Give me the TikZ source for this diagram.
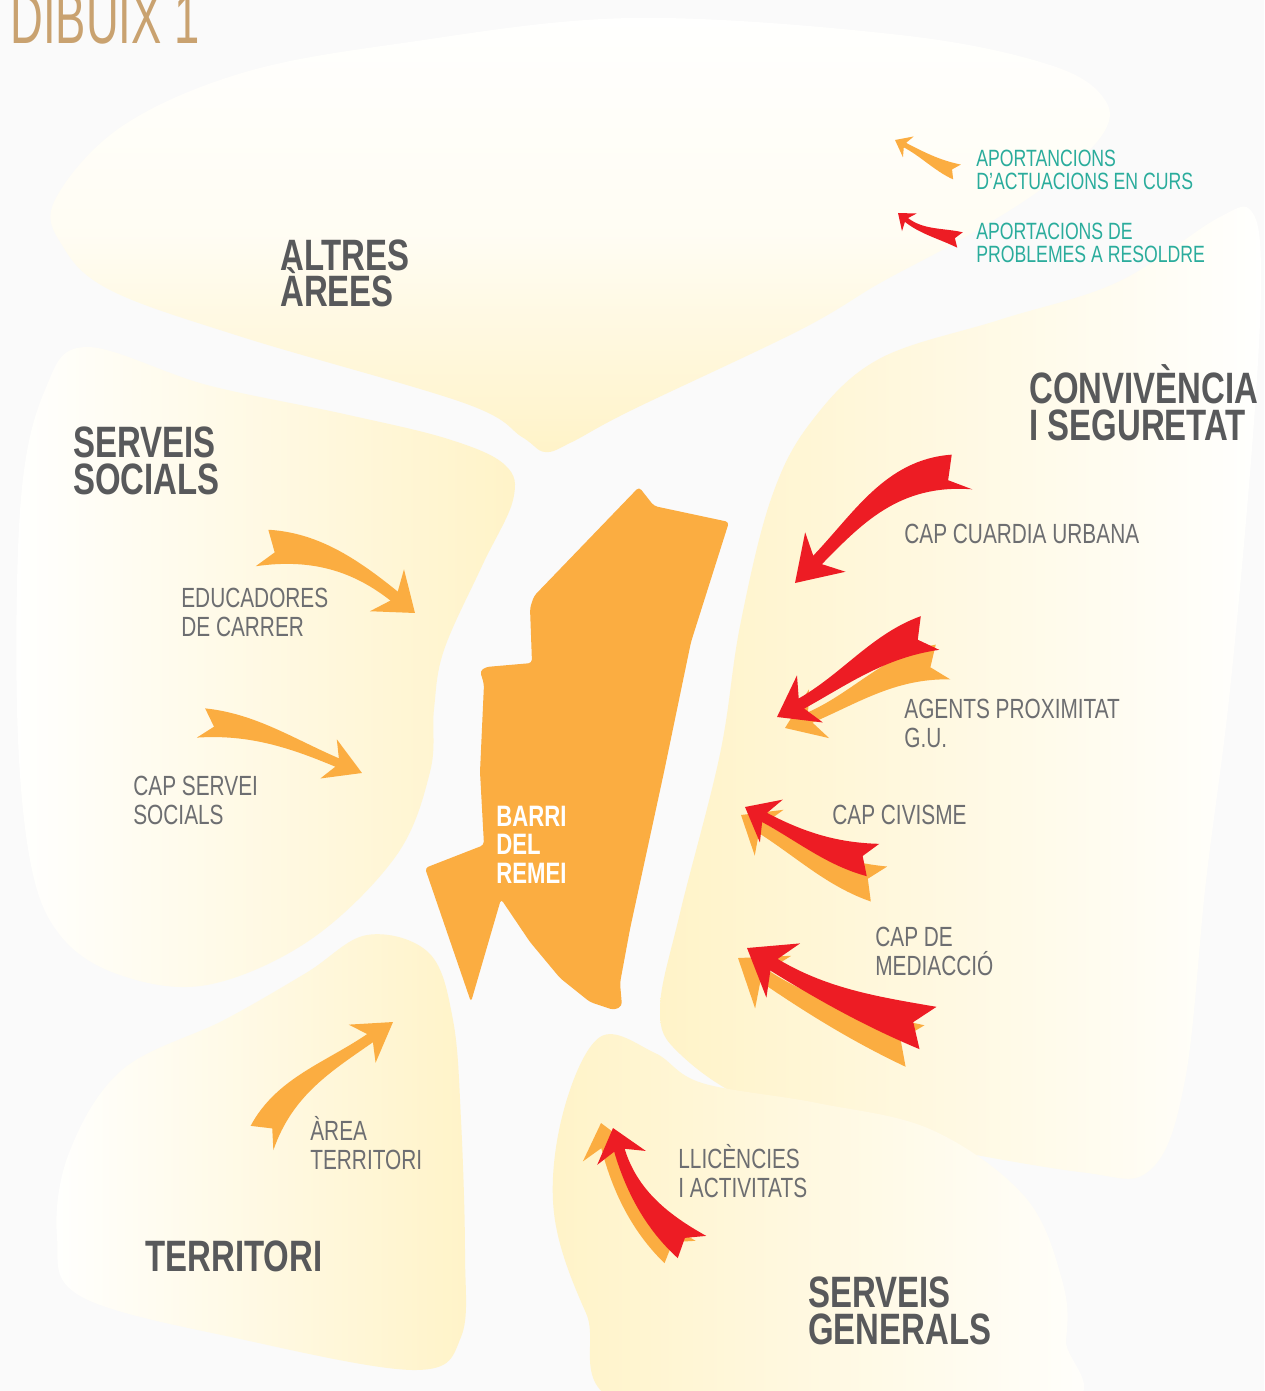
\documentclass[tikz,border=0pt]{standalone}
\usepackage{fontspec}
\setmainfont{Liberation Sans}[FakeStretch=0.75]
\newfontfamily\dibuixfont{Liberation Sans}[FakeStretch=0.63]
\definecolor{bggray}{RGB}{250,250,250}
\definecolor{blobyellow}{RGB}{255,243,200}
\definecolor{blobwhite}{RGB}{255,255,254}
\definecolor{barriorange}{RGB}{251,173,65}
\definecolor{probred}{RGB}{237,28,36}
\definecolor{legendteal}{RGB}{42,172,156}
\definecolor{titlegray}{RGB}{88,89,91}
\definecolor{labelgray}{RGB}{109,110,113}
\definecolor{dibuixtan}{RGB}{201,162,112}
\lineskiplimit=-40pt
% swoosh arrow: colour, tail x, tail y, tip x, tip y, bend, width, head twist
\newcommand{\swoosh}[8]{%
  \pgfmathsetmacro\swdx{#4-#2}%
  \pgfmathsetmacro\swdy{#3-#5}%
  \pgfmathsetmacro\swc{cos(#8)}%
  \pgfmathsetmacro\sws{sin(#8)}%
  \pgfmathsetmacro\swlen{veclen(\swdx,\swdy)/veclen(0.8+0.2*\swc,0.2*\sws)}%
  \pgfmathsetmacro\swang{atan2(\swdy,\swdx)-atan2(0.2*\sws,0.8+0.2*\swc)}%
  \fill[#1, shift={(#2,#3)}, rotate=\swang, scale=\swlen]
    (0,{0.1*#7}) -- (0.08,0) -- (0,{-0.1*#7})
    .. controls (0.3,{#6-0.07*#7}) and ({0.8-0.24*\swc-0.03*#7*\sws},{0.24*\sws-0.03*#7*\swc})
    .. ({0.8+0.06*\swc-0.03*#7*\sws},{-0.06*\sws-0.03*#7*\swc})
    -- ({0.8+0.06*\swc+0.03*#7*\sws},{-0.06*\sws+0.03*#7*\swc})
    .. controls ({0.8-0.24*\swc+0.03*#7*\sws},{0.24*\sws+0.03*#7*\swc}) and (0.3,{#6+0.07*#7})
    .. (0,{0.1*#7}) -- cycle;
  \fill[#1, shift={(#2,#3)}, rotate=\swang, scale=\swlen, shift={(0.8,0)}, rotate=#8]
    (0.2,0) -- (-0.015,{0.14*#7}) -- (0.04,{0.03*#7}) -- (0.04,{-0.03*#7}) -- (-0.015,{-0.14*#7}) -- cycle;
}

\begin{document}
\begin{tikzpicture}[x=0.02cm, y=-0.02cm,
  areatitle/.style={anchor=base west, inner sep=0pt, align=left, text=titlegray, font=\bfseries\fontsize{25}{20.6}\selectfont},
  servlabel/.style={anchor=base west, inner sep=0pt, align=left, text=labelgray, font=\fontsize{15.8}{16}\selectfont},
  legendtext/.style={anchor=base west, inner sep=0pt, align=left, text=legendteal, font=\fontsize{13.4}{13.2}\selectfont}
]
  \useasboundingbox (0,0) rectangle (1264,1391);
  \clip (0,0) rectangle (1264,1391);
  \fill[bggray] (0,0) rectangle (1264,1391);

  % areas
  \shade[top color=blobwhite, bottom color=blobyellow, middle color=blobwhite!80!blobyellow]
    plot[smooth cycle, tension=0.6] coordinates {(632,18) (403,43) (242,73) (121,127) (55,200) (62,245) (110,290) (242,337) (464,403) (522,437) (545,452) (572,442) (632,410) (800,330) (880,283) (960,240) (1040,190) (1100,138) (1105,100) (1050,65) (900,35)};
  \shade[left color=blobwhite, right color=blobyellow]
    plot[smooth cycle, tension=0.6] coordinates {(86,347) (207,385) (344,414) (448,439) (505,465) (513,500) (482,566) (444,650) (434,709) (430,772) (396,856) (310,940) (207,985) (120,975) (60,935) (30,860) (17,709) (21,498) (45,390)};
  \shade[left color=blobyellow, right color=blobwhite]
    plot[smooth cycle, tension=0.6] coordinates {(811,422) (879,359) (999,320) (1118,282) (1218,218) (1252,212) (1261,276) (1253,435) (1230,690) (1206,881) (1185,1080) (1150,1170) (1080,1172) (900,1140) (760,1105) (680,1054) (660,1009) (680,913) (720,754) (740,626) (771,499)};
  \shade[left color=blobwhite, right color=blobyellow]
    plot[smooth cycle, tension=0.6] coordinates {(367,935) (429,953) (453,1020) (461,1120) (465,1253) (461,1337) (416,1370) (245,1340) (82,1297) (57,1237) (69,1153) (122,1070) (224,1020) (306,973)};
  \shade[left color=blobyellow, right color=blobwhite]
    plot[smooth cycle, tension=0.6] coordinates {(600,1037) (655,1053) (702,1083) (817,1103) (932,1130) (1025,1197) (1062,1280) (1066,1340) (1048,1410) (642,1410) (586,1313) (554,1213) (563,1113)};

  % barri del remei
  \fill[barriorange, rounded corners=2pt] (639,487) -- (654,506) -- (729,522) -- (691,642) -- (664,772)
    -- (630,929) -- (620,983) -- (622,1006) -- (614,1010) -- (590,1002) -- (560,978) -- (530,942)
    -- (501,899) -- (471,1002) -- (425,868) -- (484,845) -- (480,772) -- (484,684) -- (480,671)
    -- (486,667) -- (532,663) -- (530,608) -- (534,596) -- cycle;

  % arrows
  \swoosh{barriorange}{957}{172}{895}{140}{-0.05}{1.2}{0}
  \swoosh{probred}{960}{240}{898}{213}{0}{1.2}{-20}
  \swoosh{barriorange}{262}{548}{415}{613}{-0.12}{1.15}{-20}
  \swoosh{barriorange}{201}{723}{362}{773}{-0.08}{0.9}{-7}
  \swoosh{barriorange}{262}{1138}{393}{1022}{-0.13}{0.95}{-8}
  \swoosh{probred}{962}{472}{795}{583}{0.18}{1.0}{15}
  \swoosh{barriorange}{943}{662}{785}{728}{0.1}{1.1}{0}
  \swoosh{probred}{930}{633}{777}{717}{0.08}{1.1}{0}
  \swoosh{barriorange}{879}{884}{741}{815}{-0.07}{1.25}{-7}
  \swoosh{probred}{873}{860}{745}{807}{-0.07}{1.25}{-7}
  \swoosh{barriorange}{915}{1046}{738}{958}{-0.03}{1.15}{-10}
  \swoosh{probred}{928}{1028}{747}{948}{-0.03}{1.15}{-10}
  \swoosh{barriorange}{680}{1252}{601}{1123}{-0.09}{1.25}{-22}
  \swoosh{probred}{692}{1247}{613}{1128}{-0.09}{1.25}{-22}

  % texts (base = last line)
  \node[anchor=base west, inner sep=0pt, text=dibuixtan, font=\dibuixfont\fontsize{41}{41}\selectfont] (dibuix) at (10,44) {DIBUIX 1};
  \node[areatitle] (altres) at (280,307) {ALTRES\\ÀREES};
  \node[areatitle] (socials) at (73,494) {SERVEIS\\SOCIALS};
  \node[areatitle] (convivencia) at (1029,440) {CONVIVÈNCIA\\I SEGURETAT};
  \node[areatitle] (territori) at (145,1271) {TERRITORI};
  \node[areatitle] (generals) at (808,1344) {SERVEIS\\GENERALS};
  \node[anchor=base west, inner sep=0pt, align=left, text=white, font=\bfseries\fontsize{16.8}{16}\selectfont] (barri) at (496,883) {BARRI\\DEL\\REMEI};

  \node[servlabel] (educadores) at (181,636) {EDUCADORES\\DE CARRER};
  \node[servlabel] (capsocials) at (133,824) {CAP SERVEI\\SOCIALS};
  \node[servlabel] (areaterritori) at (310,1169) {ÀREA\\TERRITORI};
  \node[servlabel] (guardia) at (904,543) {CAP CUARDIA URBANA};
  \node[servlabel] (agents) at (904,747) {AGENTS PROXIMITAT\\G.U.};
  \node[servlabel] (civisme) at (832,824) {CAP CIVISME};
  \node[servlabel] (mediaccio) at (875,975) {CAP DE\\MEDIACCIÓ};
  \node[servlabel] (llicencies) at (678,1197) {LLICÈNCIES\\I ACTIVITATS};

  \node[legendtext] (legendcurs) at (976,190) {APORTANCIONS\\D’ACTUACIONS EN CURS};
  \node[legendtext] (legendproblemes) at (976,263) {APORTACIONS DE\\PROBLEMES A RESOLDRE};
\end{tikzpicture}
\end{document}
